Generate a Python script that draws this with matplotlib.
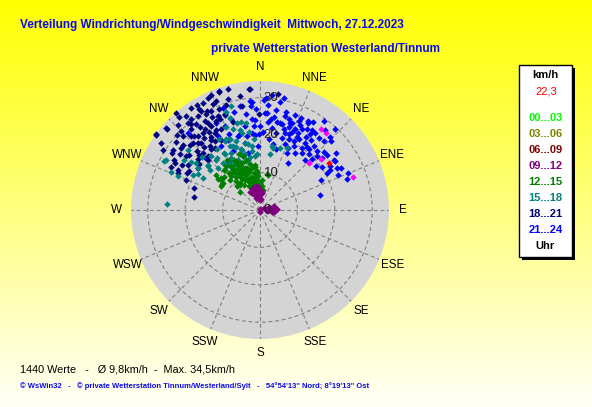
import numpy as np
import matplotlib
matplotlib.use("Agg")
import matplotlib.pyplot as plt
import matplotlib.transforms as mtransforms
from matplotlib.patches import Rectangle
from matplotlib import font_manager

# ---------------- data (direction in degrees from N, speed in km/h) ----------------
navy_dir = [340.7, 354.8, 328.9, 337.9, 342.2, 350, 319, 311.2, 306.1, 304.2, 320.4, 329.3,
            330.7, 333.8, 323.3, 319.5, 325.5, 318.4, 318.8, 325.4, 308.2, 304.7, 300.5, 296.1,
            302.1, 298.7, 304.1, 288.5, 281.6, 292.3, 321.7, 315, 333.9, 334.4, 326.5, 329.2,
            323.5, 329.6, 315, 306, 314, 335.9, 339.8, 329.9, 8.7, 359.4, 341, 355.2, 306,
            312, 316, 322, 326, 332, 336, 338, 344, 310, 313, 317, 321, 324, 327, 331, 333,
            336, 318, 322, 327, 312, 308, 303, 300, 297, 307, 316, 320, 335, 345, 350, 329,
            314, 340, 343, 311, 302, 296, 324, 331,
            305, 309, 315, 319, 323, 328, 332, 337, 317, 313, 309, 299, 294, 321, 326]
navy_spd = [33.5, 32.5, 32.7, 31.5, 29.4, 28.3, 34.2, 33.4, 34.3, 32, 30.3, 30.8,
            29.4, 29.5, 28.6, 28.4, 26.2, 26.4, 23.9, 22.9, 26.9, 28.4, 26.6, 24.5,
            22.8, 21.5, 20.1, 18.5, 17.9, 21.3, 21.7, 21.6, 26.5, 23.9, 30.2, 27.2,
            25.7, 24.0, 25.4, 24.4, 19.4, 27.5, 27.3, 26.0, 31.4, 25.6, 33.6, 32.4, 34.3,
            30, 31.5, 32, 33, 32.5, 31, 29, 31, 27, 25.5, 27, 29.5, 27.5, 25, 24.5, 28,
            26.5, 22.5, 24.5, 22, 22, 24, 28, 24, 22, 20.5, 20, 26, 33, 33.5, 31, 31.5,
            28.5, 27, 24.5, 33, 30.5, 26.5, 20.5, 21.5,
            26, 29, 30, 33, 30.5, 28, 30, 33.5, 24.5, 23, 21.5, 26, 24, 21, 23.5]

blue_dir = [10.6, 4.6, 14.7, 4.4, 8.8, 5, 10.8, 14.3, 19.1, 20.4, 23.5, 28.4, 35.6, 42.6, 0, 359,
            8.1, 16.3, 18, 20.7, 23.6, 27.5, 33.7, 35.6, 39.1, 42.8, 22, 26, 28.7, 34, 34, 38.8,
            24.6, 31.7, 25.2, 42, 45.6, 50, 50.5, 55.7, 55.3, 60.7, 61.5, 62.5, 61.2, 63.8,
            70.5, 75.8, 30.7,
            349, 355.6, 354.7, 349.8, 342.5, 337.2, 330.4, 335.6, 343.5, 347.3, 328.8, 335.4,
            316.9, 353.8, 348.3, 326.7, 314.1, 355, 357, 356, 358, 342.6,
            18, 22, 26, 30, 17, 12, 28, 36, 40, 31, 24, 46, 48, 53, 58, 66, 67, 9, 2, 6, 12,
            354.7, 3,
            15, 20, 25, 27, 32, 37, 41, 44, 21, 19, 13, 7, 3, 358, 352, 345, 340, 333, 338,
            345, 350, 356, 2, 7, 11, 15, 36, 52, 57, 47, 33, 29, 39, 44]
blue_spd = [29.3, 28.1, 27.2, 25.9, 25.3, 23.6, 24.0, 23.6, 24.7, 24.9, 26.0, 27.1, 29.3, 29.6,
            22.5, 20.2, 22.2, 22.5, 21.7, 21.6, 23.5, 24.3, 24.3, 25.4, 24.9, 25.1, 20.4, 20.5,
            21.5, 21.7, 20.1, 20.8, 18.3, 18.0, 16.9, 18.1, 19.5, 21.7, 23.3, 23.9, 20.2, 21.6,
            23.5, 24.3, 20.5, 18.3, 24.8, 16.5, 14.6,
            28.2, 29.0, 24.4, 22.8, 25.4, 24.4, 22.7, 20.7, 20.6, 18.4, 19.9, 17.3,
            28.3, 20.8, 15.6, 15.6, 20.0, 28, 24, 20, 17, 15,
            25.5, 22.5, 23, 25, 20, 21, 19.5, 23, 22.5, 27.5, 27, 26.5, 23, 25.5, 22, 22.8,
            25.5, 27, 29.5, 31, 30.5, 29.3, 30,
            26, 27, 25, 22, 23, 21, 20, 22, 19, 23.5, 24, 24.5, 26, 27, 26, 27, 29, 26, 22,
            21, 20, 22.5, 21, 19, 18, 17, 19, 19, 24, 21, 25.5, 26.5, 27.5, 27]

teal_dir = [344.7, 341, 341.6, 332.9, 337.1, 343, 347.3, 352.5, 331.3, 327.5, 336.5, 346.8,
            354.6, 292.2, 298.2, 303.7, 306.4, 299.2, 308.7, 319.1, 273.7, 297.7, 310, 324.8,
            345, 297, 23.4, 10.5, 12.2, 18, 10.3,
            340, 335, 345, 350, 332, 338, 344, 328, 352, 341, 347,
            330, 325, 338, 342, 348, 352, 355, 333, 322, 318, 312, 305, 337, 343, 349, 326,
            315, 300, 293, 310,
            346, 351, 339, 334, 357, 328, 320, 311, 304]
teal_spd = [28.9, 27.6, 22.7, 20.7, 18.5, 16.9, 18.4, 17.2, 15.9, 17.6, 14.7, 13.8,
            14.4, 23.8, 28.5, 24.3, 21.2, 17.5, 17.3, 17.8, 24.8, 20.3, 18.2, 14.8,
            24.2, 28.7, 18.1, 17.4, 17.0, 17.5, 15.1,
            16, 19, 15.5, 18, 14, 12.5, 13.5, 18, 16, 19.5, 21,
            22, 20, 24, 26, 24, 21, 19, 17, 16, 19.5, 21, 22.5, 20.5, 17, 14.5, 13.5,
            16, 19, 26, 25,
            22, 23.5, 18, 21, 15, 15, 18, 18.5, 20]

green_dir = [326.3, 335.5, 341.6, 323.1, 344, 0, 306, 312.5, 9.4, 342.3, 333.5, 322.4, 354.9,
             342.6, 318.8, 308, 309, 325.7, 338.6, 353.4, 340.4, 333.4, 326.8, 301.3, 303.9,
             10.5, 13.3,
             330, 338, 345, 325, 335, 342, 350, 320, 315, 328, 336, 346, 352, 340, 332, 310,
             318, 345, 355,
             327, 333, 338, 343, 348, 351, 356, 358, 3, 5, 337, 330, 322, 316, 320, 336, 349,
             344, 339, 326,
             331, 335, 340, 347, 329, 324, 343, 339, 334, 337, 319, 313, 306, 349, 353, 357]
green_spd = [13.0, 10.9, 8.5, 9.0, 6.5, 7.2, 12.2, 7.3, 5.5, 11.8, 14.1, 14.7, 9.9,
             15.1, 14.3, 13.1, 15.0, 12.0, 13.5, 11.7, 6.7, 9.0, 13.9, 12.1, 12.4,
             9.9, 9.7,
             11, 10, 9, 12.5, 13, 8, 7.5, 10, 11.5, 8, 7, 6, 9, 12, 15, 13.5,
             14.5, 11, 8,
             14, 11.5, 13.5, 10.5, 12.5, 10, 10.5, 6.5, 8, 6.5, 8.5, 9.5, 8.5, 9, 13, 5, 5.5,
             14, 16, 16,
             12.5, 9.5, 11, 8.5, 10.5, 11, 7, 9, 14.5, 12, 12, 13, 14, 11.5, 12, 9]

purple_dir = [350, 345, 355, 0, 350, 5, 340, 335, 355, 0, 348, 358, 342, 5, 352,
              80, 85, 95, 70, 90, 90, 100, 75, 88, 0, 180, 100, 330,
              345, 338, 352, 357, 2, 8, 82, 93, 78, 98, 87, 60]
purple_spd = [3, 4, 5, 4, 5.5, 3, 4.5, 5, 3.5, 2.8, 6, 5.8, 3.5, 4.8, 4.5,
              3, 4, 3.5, 2.5, 1.5, 4.2, 2, 4, 2.8, 0.3, 0.5, 3.2, 5.5,
              6.5, 6, 6.5, 4, 5, 4.5, 3.5, 2.5, 1.8, 3.8, 4.5, 1.2]

magenta_dir = [37.3, 40.3, 46, 49.8, 70.5]
magenta_spd = [27.1, 27.1, 18.1, 21.2, 26.4]

current_dir = [55.9]
current_spd = [22.3]

compass = ["N", "NNE", "NE", "ENE", "E", "ESE", "SE", "SSE",
           "S", "SSW", "SW", "WSW", "W", "WNW", "NW", "NNW"]
rings = [10, 20, 30]
ring_labels = ["0", "10", "20", "30"]
r_max = 34.5

legend_labels = ["00...03", "03...06", "06...09", "09...12",
                 "12...15", "15...18", "18...21", "21...24"]
legend_colors = ["#00FF00", "#808000", "#800000", "#800080",
                 "#008000", "#008080", "#000080", "#0000FF"]

title1 = "Verteilung Windrichtung/Windgeschwindigkeit  Mittwoch, 27.12.2023"
title2 = "private Wetterstation Westerland/Tinnum"
summary = "1440 Werte   -   Ø 9,8km/h  -  Max. 34,5km/h"
footer = "© WsWin32   -   © private Wetterstation Tinnum/Westerland/Sylt   -   54°54'13\" Nord; 8°19'13\" Ost"

# ---------------- fonts ----------------
names = {f.name for f in font_manager.fontManager.ttflist}
if "Liberation Sans Narrow" in names:
    tfam, tsize = "Liberation Sans Narrow", 10.0
else:
    tfam, tsize = "Liberation Sans", 8.5
base = "Liberation Sans"

W, H = 592, 407
fig = plt.figure(figsize=(W / 100, H / 100), dpi=100)

# background gradient
bg = fig.add_axes([0, 0, 1, 1], zorder=-10)
grad = np.linspace(0, 1, 256)
img = np.ones((256, 1, 3))
img[:, 0, 2] = grad * 0.97
bg.imshow(img, aspect="auto", extent=[0, 1, 0, 1], origin="upper")
bg.set_axis_off()

# polar axes
cx, cy, R = 260, 210, 129
ax = fig.add_axes([(cx - R) / W, (H - cy - R) / H, 2 * R / W, 2 * R / H], projection="polar")
ax.set_theta_zero_location("N")
ax.set_theta_direction(-1)
ax.set_ylim(0, r_max)
ax.set_facecolor("#D4D4D4")
ax.spines["polar"].set_visible(False)
ax.set_xticks(np.deg2rad(np.arange(0, 360, 22.5)))
ax.set_xticklabels([])
ax.set_yticks(rings)
ax.set_yticklabels([])
ax.grid(True, color="#808080", linestyle=(0, (3.5, 2.5)), linewidth=0.8)
ax.tick_params(length=0)

for lab, ang in zip(compass, np.arange(0, 360, 22.5)):
    ax.text(np.deg2rad(ang), 38.3, lab, ha="center", va="center", fontsize=8.4,
            family=base, color="black", clip_on=False)

off = mtransforms.offset_copy(ax.transData, fig=fig, x=2.5, y=0, units="points")
for rv, lab in zip([0] + rings, ring_labels):
    ax.text(0, rv, lab, transform=off, ha="left", va="center", fontsize=9.5,
            family=base, color="#202020", zorder=5)

def pts(d, s, c, z):
    ax.plot(np.deg2rad(d), s, linestyle="none", marker="D", markersize=3.3,
            markeredgewidth=0, color=c, zorder=z, clip_on=False)

pts(blue_dir, blue_spd, "#0000FF", 3)
pts(navy_dir, navy_spd, "#000080", 3.1)
pts(teal_dir, teal_spd, "#008080", 3.2)
pts(green_dir, green_spd, "#008000", 3.3)
pts(purple_dir, purple_spd, "#800080", 3.4)
pts(magenta_dir, magenta_spd, "#FF00FF", 3.5)
pts(current_dir, current_spd, "#FF0000", 3.6)

# titles
tc = "#0A0AF0"
fig.text(20 / W, 1 - 25 / H, title1, ha="left", va="center", fontsize=tsize,
         family=tfam, weight="bold", color=tc)
fig.text(211 / W, 1 - 49 / H, title2, ha="left", va="center", fontsize=tsize,
         family=tfam, weight="bold", color=tc)
fig.text(20 / W, 1 - 369 / H, summary, ha="left", va="center", fontsize=7.8,
         family=base, color="black")
fig.text(20 / W, 1 - 386 / H, footer, ha="left", va="center", fontsize=5.5,
         family=base, weight="bold", color="#0A0AF0")

# legend box
bx0, bx1, by0, by1 = 519, 572, 65, 257
fig.add_artist(Rectangle(((bx0 + 3) / W, 1 - (by1 + 3) / H), (bx1 - bx0) / W, (by1 - by0) / H,
                         transform=fig.transFigure, facecolor="black", edgecolor="none", zorder=1))
fig.add_artist(Rectangle((bx0 / W, 1 - by1 / H), (bx1 - bx0) / W, (by1 - by0) / H,
                         transform=fig.transFigure, facecolor="white", edgecolor="black",
                         linewidth=1, zorder=2))
lx = 545.5
fig.text(lx / W, 1 - 75 / H, "km/h", ha="center", va="center", fontsize=8, family=base,
         weight="bold", color="black", zorder=3)
fig.text(557 / W, 1 - 92 / H, "22,3", ha="right", va="center", fontsize=8, family=base,
         color="red", zorder=3)
ys = [118.3, 133.8, 149.8, 166, 181.8, 197.8, 214, 230]
for lab, col, yy in zip(legend_labels, legend_colors, ys):
    fig.text(lx / W, 1 - yy / H, lab, ha="center", va="center", fontsize=8, family=base,
             weight="bold", color=col, zorder=3)
fig.text(lx / W, 1 - 246 / H, "Uhr", ha="center", va="center", fontsize=8, family=base,
         weight="bold", color="black", zorder=3)

fig.savefig("out.png", dpi=100)
